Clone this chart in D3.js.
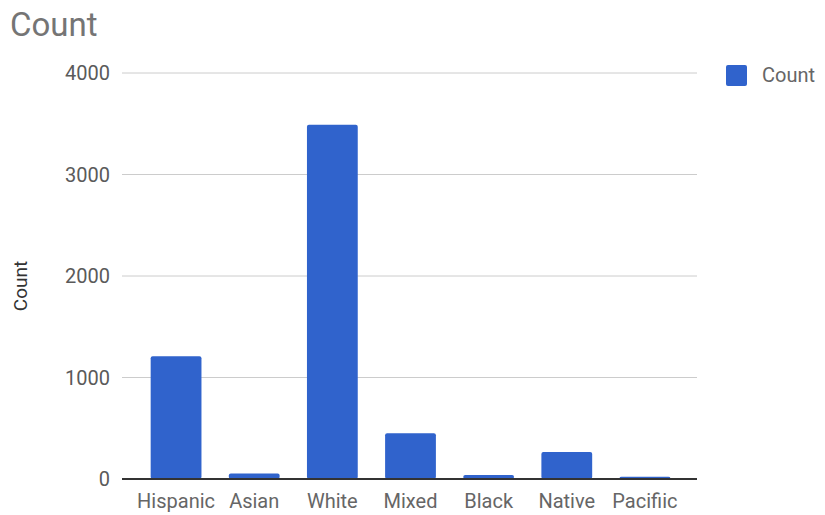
<!DOCTYPE html>
<html>
<head>
<meta charset="utf-8">
<script src="https://cdn.jsdelivr.net/npm/d3@7"></script>
<style>
  body { margin: 0; background: #fff; }
  text { font-family: Roboto, Arial, sans-serif; }
</style>
</head>
<body>
<div id="chart"></div>
<script>
// data
const categories = ["Hispanic", "Asian", "White", "Mixed", "Black", "Native", "Pacifiic"];
const counts = [1210, 55, 3490, 450, 40, 265, 22];
const yTicks = [0, 1000, 2000, 3000, 4000];

const width = 825, height = 515;
const svg = d3.select("#chart").append("svg")
  .attr("width", width).attr("height", height);

const x = d3.scaleBand().domain(categories).range([137, 684]).paddingInner(0.35).paddingOuter(0.175);
const y = d3.scaleLinear().domain([0, 4000]).range([479, 73]);

// gridlines
svg.append("g").selectAll("line")
  .data(yTicks.filter(d => d > 0))
  .join("line")
  .attr("x1", 122).attr("x2", 697)
  .attr("y1", d => y(d)).attr("y2", d => y(d))
  .attr("stroke", "#cccccc").attr("stroke-width", 1);

// y tick labels
svg.append("g").selectAll("text")
  .data(yTicks)
  .join("text")
  .attr("x", 110).attr("y", d => y(d))
  .attr("dy", "0.35em")
  .attr("text-anchor", "end")
  .attr("font-size", 20)
  .attr("fill", "#5a5a5a")
  .text(d => d);

// bars
svg.append("g").selectAll("rect")
  .data(categories)
  .join("rect")
  .attr("x", d => x(d))
  .attr("width", x.bandwidth())
  .attr("y", (d, i) => y(counts[i]))
  .attr("height", (d, i) => y(0) - y(counts[i]))
  .attr("rx", 2)
  .attr("fill", "#3063cc");

// baseline
svg.append("line")
  .attr("x1", 122).attr("x2", 697)
  .attr("y1", y(0)).attr("y2", y(0))
  .attr("stroke", "#333").attr("stroke-width", 2);

// x labels
svg.append("g").selectAll("text")
  .data(categories)
  .join("text")
  .attr("x", d => x(d) + x.bandwidth() / 2)
  .attr("y", 508)
  .attr("text-anchor", "middle")
  .attr("font-size", 20)
  .attr("fill", "#666")
  .text(d => d);

// title
svg.append("text")
  .attr("x", 10).attr("y", 36)
  .attr("font-size", 33)
  .attr("fill", "#757575")
  .text("Count");

// y axis label
svg.append("text")
  .attr("transform", "translate(27,286) rotate(-90)")
  .attr("text-anchor", "middle")
  .attr("font-size", 19)
  .attr("fill", "#333")
  .text("Count");

// legend
svg.append("rect")
  .attr("x", 726).attr("y", 65).attr("width", 21).attr("height", 21)
  .attr("rx", 2).attr("fill", "#3063cc");
svg.append("text")
  .attr("x", 762).attr("y", 82)
  .attr("font-size", 20)
  .attr("fill", "#666")
  .text("Count");
</script>
</body>
</html>
